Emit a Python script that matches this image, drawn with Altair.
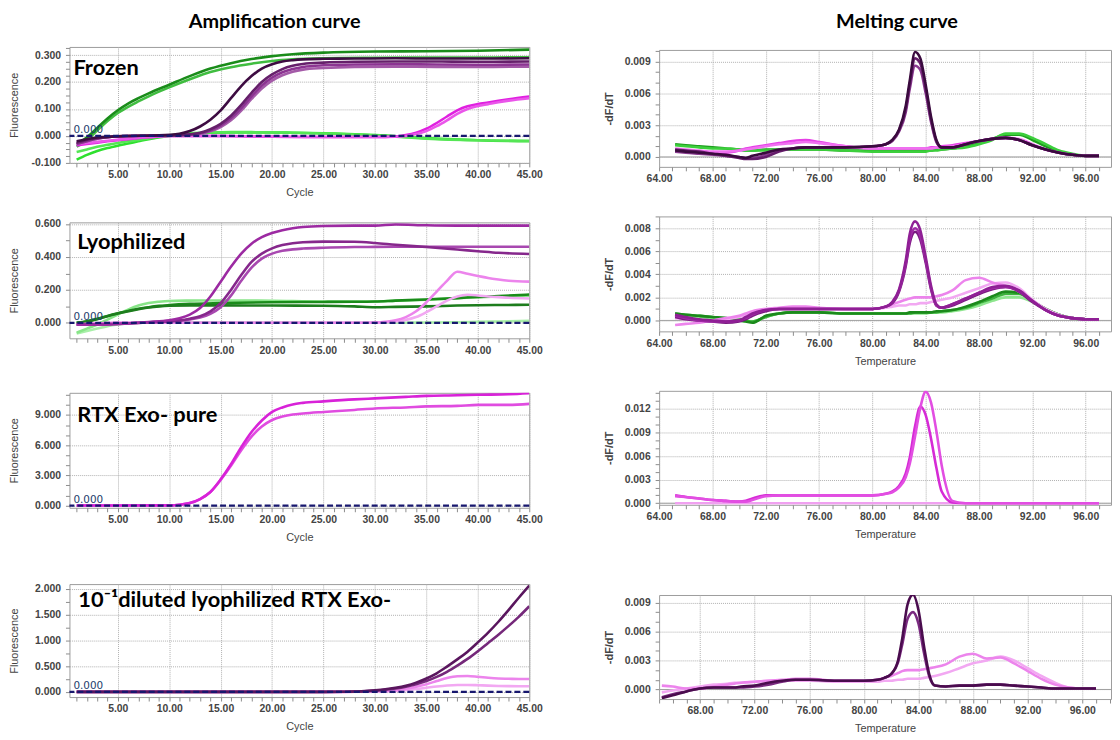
import json
import altair as alt
import pandas as pd

# ------------------------------------------------------------------ data
THRESHOLD = [0.0]

# Frozen - amplification
FZ_CYC_GREEN = [1, 2, 3, 4, 5, 6, 7, 8, 10, 12, 14, 16, 18, 20, 22, 25, 30, 35, 40, 45]
FZ_GREEN_DARK = [-0.03, -0.005, 0.03, 0.065, 0.095, 0.12, 0.14, 0.158, 0.19, 0.222, 0.25, 0.27, 0.285, 0.296, 0.303, 0.309, 0.313, 0.314, 0.316, 0.32]
FZ_GREEN_MED = [-0.04, -0.015, 0.02, 0.055, 0.085, 0.108, 0.128, 0.147, 0.18, 0.21, 0.237, 0.255, 0.268, 0.278, 0.284, 0.288, 0.29, 0.291, 0.291, 0.292]
FZ_GREEN_LOW_1 = [-0.088, -0.07, -0.056, -0.045, -0.036, -0.028, -0.02, -0.012, 0.0, 0.008, 0.012, 0.013, 0.013, 0.013, 0.012, 0.01, 0.003, -0.008, -0.016, -0.02]
FZ_GREEN_LOW_2 = [-0.06, -0.05, -0.04, -0.033, -0.026, -0.02, -0.015, -0.009, 0.002, 0.01, 0.013, 0.014, 0.014, 0.013, 0.012, 0.009, 0.002, -0.01, -0.016, -0.018]
FZ_CYC_SIG = [1, 3, 6, 9, 11, 12, 13, 14, 15, 16, 17, 18, 19, 20, 21, 22, 23, 25, 28, 32, 36, 40, 45]
FZ_PURPLE_1 = [-0.02, -0.006, 0.0, 0.002, 0.008, 0.018, 0.035, 0.06, 0.095, 0.14, 0.185, 0.222, 0.25, 0.266, 0.276, 0.281, 0.284, 0.286, 0.287, 0.288, 0.287, 0.287, 0.288]
FZ_PURPLE_2 = [-0.025, -0.008, 0.0, 0.001, 0.003, 0.006, 0.012, 0.025, 0.045, 0.075, 0.115, 0.16, 0.2, 0.228, 0.248, 0.26, 0.267, 0.272, 0.275, 0.276, 0.276, 0.275, 0.276]
FZ_PURPLE_3 = [-0.03, -0.01, 0.0, 0.001, 0.002, 0.005, 0.01, 0.02, 0.038, 0.066, 0.103, 0.147, 0.187, 0.216, 0.236, 0.248, 0.256, 0.262, 0.265, 0.266, 0.265, 0.264, 0.265]
FZ_PURPLE_4 = [-0.03, -0.01, 0.0, 0.001, 0.002, 0.004, 0.008, 0.017, 0.033, 0.058, 0.094, 0.137, 0.176, 0.205, 0.225, 0.238, 0.246, 0.252, 0.256, 0.257, 0.256, 0.256, 0.257]
FZ_CYC_LATE = [1, 2, 3, 4, 6, 8, 10, 15, 20, 25, 30, 32, 33, 34, 35, 36, 37, 38, 39, 40, 41, 42, 43, 45]
FZ_MAGENTA_1 = [-0.035, -0.03, -0.025, -0.02, -0.012, -0.005, 0.0, 0.0, -0.003, -0.004, -0.004, -0.002, 0.003, 0.012, 0.027, 0.048, 0.072, 0.095, 0.11, 0.118, 0.124, 0.13, 0.136, 0.146]
FZ_MAGENTA_2 = [-0.03, -0.026, -0.022, -0.018, -0.01, -0.004, 0.0, 0.0, -0.003, -0.004, -0.004, -0.003, 0.0, 0.007, 0.018, 0.036, 0.058, 0.082, 0.1, 0.111, 0.118, 0.125, 0.131, 0.14]

# Lyophilized - amplification
LY_CYC_SIG = [1, 4, 8, 10, 11, 12, 13, 14, 15, 16, 17, 18, 19, 20, 21, 22, 23, 25, 28, 30, 32, 35, 38, 40, 42, 45]
LY_PURPLE_TOP = [-0.01, -0.01, 0.005, 0.015, 0.028, 0.05, 0.09, 0.16, 0.25, 0.34, 0.42, 0.48, 0.52, 0.545, 0.562, 0.574, 0.582, 0.588, 0.59, 0.59, 0.597, 0.592, 0.59, 0.59, 0.59, 0.59]
LY_PURPLE_MID = [-0.01, -0.008, 0.003, 0.01, 0.015, 0.025, 0.04, 0.07, 0.12, 0.2, 0.29, 0.37, 0.42, 0.452, 0.472, 0.483, 0.489, 0.493, 0.492, 0.485, 0.474, 0.46, 0.445, 0.435, 0.425, 0.418]
LY_PURPLE_LOW = [-0.01, -0.008, 0.003, 0.008, 0.012, 0.02, 0.032, 0.055, 0.095, 0.165, 0.255, 0.335, 0.39, 0.42, 0.437, 0.446, 0.451, 0.456, 0.46, 0.461, 0.462, 0.462, 0.462, 0.462, 0.462, 0.462]
LY_CYC_LATE = [1, 5, 10, 20, 28, 30, 31, 32, 33, 34, 35, 36, 37, 38, 39, 40, 41, 42, 43, 45]
LY_PINK_1 = [-0.01, 0.0, 0.0, 0.0, 0.0, 0.002, 0.006, 0.015, 0.035, 0.07, 0.125, 0.19, 0.255, 0.31, 0.298, 0.285, 0.272, 0.263, 0.256, 0.25]
LY_PINK_2 = [-0.01, 0.0, 0.0, 0.0, 0.0, 0.0, 0.003, 0.008, 0.018, 0.035, 0.065, 0.1, 0.135, 0.16, 0.17, 0.166, 0.16, 0.156, 0.152, 0.148]
LY_CYC_GREEN = [1, 2, 3, 4, 5, 6, 7, 8, 9, 10, 12, 15, 20, 25, 28, 30, 32, 35, 38, 40, 42, 45]
LY_GREEN_LIGHT = [-0.06, -0.035, -0.01, 0.02, 0.05, 0.08, 0.105, 0.12, 0.128, 0.133, 0.135, 0.136, 0.134, 0.13, 0.13, 0.13, 0.135, 0.14, 0.15, 0.155, 0.16, 0.165]
LY_GREEN_DARK_1 = [0.0, 0.01, 0.025, 0.042, 0.058, 0.072, 0.085, 0.095, 0.103, 0.108, 0.115, 0.12, 0.125, 0.127, 0.128, 0.13, 0.135, 0.142, 0.15, 0.157, 0.162, 0.172]
LY_GREEN_DARK_2 = [0.0, 0.008, 0.022, 0.04, 0.056, 0.07, 0.083, 0.093, 0.1, 0.104, 0.106, 0.106, 0.105, 0.104, 0.1, 0.095, 0.097, 0.1, 0.105, 0.107, 0.108, 0.11]
LY_GREEN_FLAT = [-0.065, -0.05, -0.035, -0.02, -0.01, -0.003, 0.0, 0.002, 0.003, 0.004, 0.004, 0.003, 0.002, 0.001, 0.0, 0.0, 0.0, 0.002, 0.004, 0.006, 0.008, 0.012]

# RTX Exo- pure - amplification
RP_CYC = [1, 5, 10, 11, 12, 13, 14, 15, 16, 17, 18, 19, 20, 21, 22, 23, 25, 28, 30, 33, 35, 38, 40, 43, 45]
RP_MAGENTA_1 = [0.0, 0.0, 0.02, 0.08, 0.25, 0.65, 1.35, 2.6, 4.1, 5.8, 7.3, 8.45, 9.3, 9.75, 10.05, 10.2, 10.35, 10.55, 10.65, 10.8, 10.9, 10.95, 11.0, 11.05, 11.15]
RP_MAGENTA_2 = [0.0, 0.0, 0.02, 0.08, 0.25, 0.65, 1.35, 2.55, 3.95, 5.5, 6.85, 7.85, 8.5, 8.85, 9.05, 9.15, 9.3, 9.5, 9.65, 9.75, 9.85, 9.9, 10.0, 10.0, 10.1]

# 10^-1 diluted lyophilized RTX Exo- - amplification
DL_CYC = [1, 5, 10, 15, 20, 25, 27, 28, 29, 30, 31, 32, 33, 34, 35, 36, 37, 38, 39, 40, 41, 42, 43, 44, 45]
DL_PURPLE_1 = [0, 0, 0, 0, 0, 0, 0.003, 0.008, 0.015, 0.03, 0.05, 0.08, 0.12, 0.18, 0.26, 0.36, 0.49, 0.63, 0.78, 0.96, 1.15, 1.36, 1.59, 1.83, 2.06]
DL_PURPLE_2 = [0, 0, 0, 0, 0, 0, 0.003, 0.007, 0.013, 0.025, 0.042, 0.066, 0.1, 0.148, 0.21, 0.29, 0.39, 0.51, 0.64, 0.79, 0.95, 1.11, 1.28, 1.46, 1.66]
DL_PINK_1 = [0, 0, 0, 0, 0, 0, 0, 0.003, 0.006, 0.012, 0.02, 0.035, 0.06, 0.1, 0.15, 0.21, 0.27, 0.305, 0.31, 0.295, 0.275, 0.26, 0.255, 0.25, 0.25]
DL_PINK_2 = [0, 0, 0, 0, 0, 0, 0, 0.002, 0.004, 0.008, 0.013, 0.02, 0.035, 0.055, 0.08, 0.105, 0.125, 0.135, 0.135, 0.13, 0.122, 0.116, 0.112, 0.11, 0.11]

# Melting curves (temperature grid shared by all melt series)
MELT_T = [65.2, 66, 67, 68, 69,
          70, 70.5, 71, 72, 73,
          74, 75, 76, 78, 80,
          81, 81.5, 82, 82.5, 82.8,
          83.2, 83.6, 84, 84.4, 84.8,
          85.2, 86, 87, 88, 89,
          90, 91, 92, 93, 94,
          95, 96, 97]

FM_PURPLE_1 = [0.0006, 0.0005, 0.0004, 0.0003, 0.0002,
               0.0000, -0.0001, 0.0001, 0.0004, 0.0007,
               0.0008, 0.0009, 0.0009, 0.0009, 0.0010,
               0.0012, 0.0016, 0.0026, 0.0048, 0.0072,
               0.0099, 0.0093, 0.0068, 0.0038, 0.0016,
               0.0009, 0.0009, 0.0012, 0.0015, 0.0017,
               0.0018, 0.0016, 0.0011, 0.0007, 0.0004,
               0.0002, 0.0001, 0.0001]
FM_PURPLE_2 = [0.0007, 0.0006, 0.0005, 0.0003, 0.0001,
               -0.0001, -0.0002, -0.0002, 0.0000, 0.0005,
               0.0008, 0.0009, 0.0009, 0.0009, 0.0010,
               0.0012, 0.0016, 0.0025, 0.0045, 0.0068,
               0.0093, 0.0088, 0.0064, 0.0035, 0.0015,
               0.0009, 0.0009, 0.0012, 0.0015, 0.0017,
               0.0018, 0.0016, 0.0011, 0.0007, 0.0004,
               0.0002, 0.0001, 0.0001]
FM_PURPLE_3 = [0.0005, 0.0004, 0.0003, 0.0002, 0.0001,
               0.0000, -0.0001, -0.0001, 0.0002, 0.0006,
               0.0008, 0.0009, 0.0009, 0.0009, 0.0010,
               0.0012, 0.0015, 0.0024, 0.0042, 0.0064,
               0.0086, 0.0082, 0.0060, 0.0033, 0.0014,
               0.0009, 0.0009, 0.0012, 0.0015, 0.0017,
               0.0018, 0.0016, 0.0011, 0.0007, 0.0004,
               0.0002, 0.0001, 0.0001]
FM_MAGENTA_1 = [0.0007, 0.0006, 0.0005, 0.0004, 0.0004,
                0.0006, 0.0008, 0.0009, 0.0011, 0.0013,
                0.0015, 0.0016, 0.0014, 0.0010, 0.0008,
                0.0008, 0.0008, 0.0008, 0.0008, 0.0008,
                0.0008, 0.0008, 0.0008, 0.0009, 0.0009,
                0.0010, 0.0011, 0.0013, 0.0015, 0.0017,
                0.0018, 0.0016, 0.0011, 0.0007, 0.0004,
                0.0002, 0.0001, 0.0001]
FM_MAGENTA_2 = [0.0008, 0.0007, 0.0006, 0.0005, 0.0005,
                0.0006, 0.0007, 0.0008, 0.0010, 0.0012,
                0.0013, 0.0014, 0.0013, 0.0010, 0.0008,
                0.0008, 0.0008, 0.0008, 0.0008, 0.0008,
                0.0008, 0.0008, 0.0008, 0.0008, 0.0009,
                0.0009, 0.0010, 0.0012, 0.0015, 0.0017,
                0.0018, 0.0017, 0.0012, 0.0007, 0.0004,
                0.0002, 0.0001, 0.0001]
FM_GREEN_1 = [0.0012, 0.0011, 0.0010, 0.0009, 0.0008,
              0.0007, 0.0006, 0.0006, 0.0007, 0.0007,
              0.0007, 0.0007, 0.0007, 0.0006, 0.0006,
              0.0006, 0.0006, 0.0006, 0.0006, 0.0006,
              0.0006, 0.0006, 0.0006, 0.0006, 0.0007,
              0.0007, 0.0008, 0.0010, 0.0013, 0.0017,
              0.0021, 0.0021, 0.0016, 0.0010, 0.0005,
              0.0002, 0.0001, 0.0001]
FM_GREEN_2 = [0.0011, 0.0010, 0.0009, 0.0008, 0.0008,
              0.0007, 0.0006, 0.0006, 0.0006, 0.0007,
              0.0007, 0.0007, 0.0007, 0.0006, 0.0005,
              0.0005, 0.0005, 0.0005, 0.0005, 0.0005,
              0.0005, 0.0005, 0.0005, 0.0006, 0.0006,
              0.0007, 0.0008, 0.0009, 0.0012, 0.0016,
              0.0022, 0.0022, 0.0018, 0.0012, 0.0006,
              0.0003, 0.0001, 0.0001]

LM_PURPLE_1 = [0.0005, 0.0003, 0.0001, 0.0000, -0.0001,
               0.0000, 0.0003, 0.0006, 0.0009, 0.0010,
               0.0010, 0.0010, 0.0010, 0.0010, 0.0010,
               0.0012, 0.0016, 0.0027, 0.0052, 0.0075,
               0.0086, 0.0078, 0.0055, 0.0030, 0.0014,
               0.0011, 0.0014, 0.0019, 0.0024, 0.0029,
               0.0030, 0.0026, 0.0017, 0.0009, 0.0004,
               0.0002, 0.0001, 0.0001]
LM_PURPLE_2 = [0.0004, 0.0002, 0.0000, -0.0001, -0.0001,
               0.0000, 0.0002, 0.0005, 0.0009, 0.0010,
               0.0010, 0.0010, 0.0010, 0.0010, 0.0010,
               0.0012, 0.0016, 0.0026, 0.0049, 0.0070,
               0.0080, 0.0073, 0.0052, 0.0028, 0.0013,
               0.0011, 0.0014, 0.0019, 0.0024, 0.0028,
               0.0029, 0.0026, 0.0017, 0.0009, 0.0004,
               0.0002, 0.0001, 0.0001]
LM_PURPLE_3 = [0.0003, 0.0001, 0.0000, -0.0001, -0.0002,
               -0.0001, 0.0001, 0.0004, 0.0008, 0.0010,
               0.0010, 0.0010, 0.0010, 0.0010, 0.0010,
               0.0012, 0.0015, 0.0025, 0.0047, 0.0067,
               0.0077, 0.0070, 0.0050, 0.0027, 0.0013,
               0.0011, 0.0013, 0.0018, 0.0023, 0.0027,
               0.0029, 0.0025, 0.0016, 0.0009, 0.0004,
               0.0002, 0.0001, 0.0001]
LM_PINK_1 = [-0.0004, -0.0003, -0.0002, 0.0000, 0.0002,
             0.0004, 0.0006, 0.0008, 0.0010, 0.0011,
             0.0012, 0.0012, 0.0011, 0.0010, 0.0010,
             0.0012, 0.0014, 0.0016, 0.0018, 0.0019,
             0.0020, 0.0020, 0.0020, 0.0020, 0.0021,
             0.0022, 0.0026, 0.0035, 0.0037, 0.0033,
             0.0030, 0.0025, 0.0017, 0.0009, 0.0004,
             0.0002, 0.0001, 0.0001]
LM_PINK_2 = [0.0002, 0.0001, 0.0000, 0.0000, 0.0001,
             0.0003, 0.0005, 0.0007, 0.0009, 0.0010,
             0.0011, 0.0011, 0.0010, 0.0010, 0.0010,
             0.0011, 0.0012, 0.0013, 0.0013, 0.0014,
             0.0014, 0.0015, 0.0015, 0.0016, 0.0017,
             0.0018, 0.0020, 0.0024, 0.0028, 0.0032,
             0.0033, 0.0028, 0.0018, 0.0010, 0.0005,
             0.0002, 0.0001, 0.0001]
LM_GREEN_1 = [0.0006, 0.0005, 0.0004, 0.0003, 0.0002,
              0.0000, -0.0001, -0.0002, 0.0004, 0.0006,
              0.0007, 0.0007, 0.0007, 0.0006, 0.0006,
              0.0006, 0.0006, 0.0006, 0.0006, 0.0007,
              0.0007, 0.0007, 0.0007, 0.0007, 0.0008,
              0.0008, 0.0009, 0.0012, 0.0016, 0.0021,
              0.0025, 0.0024, 0.0017, 0.0010, 0.0005,
              0.0002, 0.0001, 0.0001]
LM_GREEN_2 = [0.0006, 0.0005, 0.0004, 0.0003, 0.0002,
              0.0001, 0.0000, -0.0001, 0.0003, 0.0006,
              0.0007, 0.0007, 0.0007, 0.0006, 0.0006,
              0.0006, 0.0006, 0.0006, 0.0006, 0.0006,
              0.0007, 0.0007, 0.0007, 0.0007, 0.0007,
              0.0008, 0.0009, 0.0011, 0.0015, 0.0019,
              0.0023, 0.0023, 0.0017, 0.0010, 0.0005,
              0.0002, 0.0001, 0.0001]
LM_GREEN_3 = [0.0005, 0.0004, 0.0003, 0.0002, 0.0001,
              0.0000, -0.0001, -0.0001, 0.0003, 0.0006,
              0.0007, 0.0007, 0.0007, 0.0006, 0.0006,
              0.0006, 0.0006, 0.0006, 0.0006, 0.0006,
              0.0006, 0.0006, 0.0006, 0.0007, 0.0007,
              0.0007, 0.0008, 0.0010, 0.0013, 0.0017,
              0.0020, 0.0020, 0.0016, 0.0010, 0.0005,
              0.0002, 0.0001, 0.0001]

RM_MAGENTA_1 = [0.0010, 0.0008, 0.0006, 0.0004, 0.0003,
                0.0002, 0.0003, 0.0006, 0.0010, 0.0010,
                0.0010, 0.0010, 0.0010, 0.0010, 0.0010,
                0.0012, 0.0015, 0.0022, 0.0038, 0.0058,
                0.0098, 0.0123, 0.0112, 0.0082, 0.0045,
                0.0015, 0.0001, 0.0000, 0.0000, 0.0000,
                0.0000, 0.0000, 0.0000, 0.0000, 0.0000,
                0.0000, 0.0000, 0.0000]
RM_MAGENTA_2 = [0.0009, 0.0008, 0.0006, 0.0004, 0.0003,
                0.0002, 0.0002, 0.0004, 0.0009, 0.0010,
                0.0010, 0.0010, 0.0010, 0.0010, 0.0010,
                0.0012, 0.0014, 0.0020, 0.0033, 0.0050,
                0.0085, 0.0122, 0.0142, 0.0128, 0.0092,
                0.0048, 0.0003, 0.0000, 0.0000, 0.0000,
                0.0000, 0.0000, 0.0000, 0.0000, 0.0000,
                0.0000, 0.0000, 0.0000]
RM_BASE_T = [65.2, 97.0]
RM_BASE = [0.0, 0.0]

DM_PURPLE_1 = [-0.0009, -0.0006, -0.0002, 0.0001, 0.0002,
               0.0002, 0.0002, 0.0003, 0.0004, 0.0007,
               0.0009, 0.0010, 0.0010, 0.0009, 0.0009,
               0.0010, 0.0012, 0.0016, 0.0030, 0.0052,
               0.0088, 0.0098, 0.0082, 0.0045, 0.0015,
               0.0004, 0.0003, 0.0004, 0.0004, 0.0005,
               0.0005, 0.0004, 0.0003, 0.0002, 0.0001,
               0.0001, 0.0001, 0.0001]
DM_PURPLE_2 = [-0.0008, -0.0005, -0.0002, 0.0001, 0.0002,
               0.0002, 0.0002, 0.0002, 0.0003, 0.0005,
               0.0008, 0.0010, 0.0010, 0.0009, 0.0009,
               0.0010, 0.0012, 0.0016, 0.0028, 0.0046,
               0.0073, 0.0080, 0.0068, 0.0038, 0.0013,
               0.0004, 0.0003, 0.0004, 0.0004, 0.0005,
               0.0005, 0.0004, 0.0003, 0.0002, 0.0001,
               0.0001, 0.0001, 0.0001]
DM_PINK_1 = [0.0004, 0.0003, 0.0001, 0.0001, 0.0003,
             0.0005, 0.0006, 0.0007, 0.0008, 0.0009,
             0.0010, 0.0011, 0.0011, 0.0009, 0.0009,
             0.0010, 0.0012, 0.0014, 0.0017, 0.0019,
             0.0020, 0.0020, 0.0020, 0.0021, 0.0022,
             0.0023, 0.0026, 0.0034, 0.0037, 0.0032,
             0.0033, 0.0027, 0.0019, 0.0011, 0.0005,
             0.0002, 0.0001, 0.0001]
DM_PINK_2 = [-0.0003, -0.0001, 0.0001, 0.0003, 0.0005,
             0.0006, 0.0007, 0.0007, 0.0008, 0.0009,
             0.0009, 0.0009, 0.0009, 0.0008, 0.0008,
             0.0008, 0.0009, 0.0009, 0.0010, 0.0010,
             0.0011, 0.0011, 0.0011, 0.0012, 0.0013,
             0.0014, 0.0017, 0.0022, 0.0027, 0.0030,
             0.0034, 0.0030, 0.0022, 0.0014, 0.0007,
             0.0002, 0.0001, 0.0001]

# axis tick labels
AMP_X_MAJOR = [5, 10, 15, 20, 25, 30, 35, 40, 45]
MELT_X_MAJOR = [64, 68, 72, 76, 80, 84, 88, 92, 96]
FZ_Y_MAJOR = [-0.1, 0.0, 0.1, 0.2, 0.3]
LY_Y_MAJOR = [0.0, 0.2, 0.4, 0.6]
RP_Y_MAJOR = [0.0, 3.0, 6.0, 9.0]
DL_Y_MAJOR = [0.0, 0.5, 1.0, 1.5, 2.0]
FM_Y_MAJOR = [0.0, 0.003, 0.006, 0.009]
LM_Y_MAJOR = [0.0, 0.002, 0.004, 0.006, 0.008]
RM_Y_MAJOR = [0.0, 0.003, 0.006, 0.009, 0.012]
DM_Y_MAJOR = [0.0, 0.003, 0.006, 0.009]

# ------------------------------------------------------------------ style
LABEL_FONT = "Liberation Sans"
HEAD_FONT = "Lato"
AXIS_GREY = "#444444"
GRID_GREY = "#b0b0b0"
TICK_GREY = "#8c8c8c"
BORDER_GREY = "#9c9c9c"
NAVY = "#17176e"


def build_df(series, prefix):
    rows = []
    for name, xs, ys in series:
        for xv, yv in zip(xs, ys):
            rows.append({"x": xv, "y": yv, "series": f"{prefix}_{name}"})
    return pd.DataFrame(rows)


def tick_values(lo, hi, step):
    n = int(round((hi - lo) / step))
    return [round(lo + i * step, 6) for i in range(n + 1)]


def major_test(values):
    return f"indexof({json.dumps(values)}, datum.value) >= 0"


def make_axis(ticks, major, fmt, title, orient_x, size, title_pos, bold_title=False):
    test = major_test(major)
    kw = dict(
        values=ticks,
        labelExpr=f"{test} ? replace(format(datum.value, '{fmt}'), '\u2212', '-') : ''",
        labelFlush=False,
        labelOverlap=False,
        labelFont=LABEL_FONT,
        labelFontSize=10.5,
        labelFontWeight="bold",
        labelColor=AXIS_GREY,
        tickSize=4,
        tickColor=TICK_GREY,
        domain=False,
        grid=True,
        gridColor=GRID_GREY,
        gridDash=[1, 1],
        gridOpacity={"condition": {"test": test, "value": 1}, "value": 0},
    )
    kw["labelPadding"] = 3 if orient_x else 5
    if title:
        kw.update(
            title=title,
            titleFont=LABEL_FONT,
            titleFontSize=11,
            titleFontWeight="bold" if bold_title else "normal",
            titleColor=AXIS_GREY,
            titleBaseline="middle",
            titleAlign="center",
        )
        if orient_x:
            kw.update(titleX=size / 2, titleY=title_pos)
        else:
            kw.update(titleX=title_pos, titleY=size / 2, titleAngle=270)
    else:
        kw["title"] = None
    return alt.Axis(**kw)


def panel(pid, series, colors, xdom, ydom, xticks, xmajor, yticks, ymajor, width, height,
          xtitle, ytitle, ytitle_x, melt, label=None, label_dx=6, label_dy=28,
          title=None):
    df = build_df(series, pid)
    names = [f"{pid}_{s[0]}" for s in series]
    xs = alt.Scale(domain=xdom, nice=False, zero=False)
    ys = alt.Scale(domain=ydom, nice=False, zero=False)
    x_ax = make_axis(xticks, xmajor, ".2f", xtitle, True, width, 30)
    y_ax = make_axis(yticks, ymajor, ".3f", ytitle, False, height, ytitle_x, bold_title=melt)
    X = lambda: alt.X("x:Q", scale=xs, axis=x_ax)
    Y = lambda: alt.Y("y:Q", scale=ys, axis=y_ax)
    layers = []
    if melt:
        zero_df = pd.DataFrame({"y": THRESHOLD})
        layers.append(
            alt.Chart(zero_df).mark_rule(color="#a0a0a0", strokeWidth=1).encode(y=Y()))
    lines = alt.Chart(df).mark_line(strokeWidth=2.6, clip=True, interpolate="monotone").encode(
        x=X(), y=Y(),
        color=alt.Color("series:N", scale=alt.Scale(domain=names, range=colors), legend=None),
    )
    layers.append(lines)
    if not melt:
        thr_df = pd.DataFrame({"y": THRESHOLD})
        layers.append(
            alt.Chart(thr_df).mark_rule(color=NAVY, strokeWidth=2.2, strokeDash=[6, 3]).encode(y=Y()))
        thr_txt = pd.DataFrame({"x": [xdom[0]], "y": THRESHOLD, "t": ["0.000"]})
        layers.append(
            alt.Chart(thr_txt).mark_text(align="left", baseline="alphabetic", dx=4, dy=-3,
                                         font="DejaVu Sans", fontSize=10.5, color="#1d3d6d").encode(
                x=X(), y=Y(), text="t:N"))
    if label:
        lab_df = pd.DataFrame({"x": [xdom[0]], "y": [ydom[1]], "t": [label]})
        layers.append(
            alt.Chart(lab_df).mark_text(align="left", baseline="alphabetic", dx=label_dx, dy=label_dy,
                                        font=HEAD_FONT, fontSize=22, fontWeight="bold",
                                        color="#000000").encode(
                x=X(), y=Y(), text="t:N"))
    ch = alt.layer(*layers).properties(
        width=width, height=height,
        view=alt.ViewBackground(stroke=BORDER_GREY, strokeWidth=1))
    if title is not None:
        ch = ch.properties(title=title)
    return ch


def spacer(w, h):
    return alt.Chart(pd.DataFrame({"v": [0]})).mark_point(opacity=0).encode(
        x=alt.X("v:Q", axis=None), y=alt.Y("v:Q", axis=None)).properties(width=w, height=h)


# colours
C_GREEN_DARK = "#1a8c1a"
C_GREEN_MED = "#40bd40"
C_GREEN_BRIGHT = "#2ee02e"
C_GREEN_LIGHT = "#88e588"
C_GREEN_PALE = "#a8efa8"
C_PURPLE_BLACK = "#3e0c42"
C_PURPLE_DARK = "#66206b"
C_PURPLE = "#8c3492"
C_PURPLE_SOFT = "#a45aa8"
C_PURPLE_VIVID = "#9c2aa2"
C_MAGENTA = "#e020e0"
C_MAGENTA_SOFT = "#ea55ea"
C_PINK = "#ec84ec"
C_PINK_PALE = "#f2a8f2"

LW = 464
RW = 456
AMP_XDOM = [0.3, 45.0]
AMP_XT = tick_values(1, 45, 1)
MELT_XDOM = [64.0, 97.9]
MELT_XT = tick_values(64, 97, 1)
MELT_XDOM_4 = [65.0, 98.1]
MELT_XT_4 = tick_values(65, 98, 1)
LYT = -55
RYT = -50

amp_title = alt.TitleParams("Amplification curve", font=HEAD_FONT, fontSize=20, fontWeight="bold",
                            color="#000000", anchor="middle", frame="group", dx=-25, offset=-5,
                            baseline="alphabetic")
melt_title = alt.TitleParams("Melting curve", font=HEAD_FONT, fontSize=20, fontWeight="bold",
                             color="#000000", anchor="middle", frame="group", dx=12, offset=-2,
                             baseline="alphabetic")

p1 = panel(
    "p1",
    [("g_med", FZ_CYC_GREEN, FZ_GREEN_MED), ("g_dark", FZ_CYC_GREEN, FZ_GREEN_DARK),
     ("g_low1", FZ_CYC_GREEN, FZ_GREEN_LOW_1), ("g_low2", FZ_CYC_GREEN, FZ_GREEN_LOW_2),
     ("m1", FZ_CYC_LATE, FZ_MAGENTA_1), ("m2", FZ_CYC_LATE, FZ_MAGENTA_2),
     ("p4", FZ_CYC_SIG, FZ_PURPLE_4), ("p3", FZ_CYC_SIG, FZ_PURPLE_3),
     ("p2", FZ_CYC_SIG, FZ_PURPLE_2), ("p1", FZ_CYC_SIG, FZ_PURPLE_1)],
    [C_GREEN_MED, C_GREEN_DARK, C_GREEN_BRIGHT, "#55e655", C_MAGENTA, C_MAGENTA_SOFT,
     C_PURPLE_SOFT, C_PURPLE, C_PURPLE_DARK, C_PURPLE_BLACK],
    AMP_XDOM, [-0.1, 0.33], AMP_XT, AMP_X_MAJOR, tick_values(-0.1, 0.325, 0.025), FZ_Y_MAJOR,
    LW, 117, "Cycle", "Fluorescence", LYT, False, label="Frozen", label_dx=4, label_dy=28,
    title=amp_title)

p2 = panel(
    "p2",
    [("g_flat", LY_CYC_GREEN, LY_GREEN_FLAT), ("g_light", LY_CYC_GREEN, LY_GREEN_LIGHT),
     ("g_d1", LY_CYC_GREEN, LY_GREEN_DARK_1), ("g_d2", LY_CYC_GREEN, LY_GREEN_DARK_2),
     ("k2", LY_CYC_LATE, LY_PINK_2), ("k1", LY_CYC_LATE, LY_PINK_1),
     ("low", LY_CYC_SIG, LY_PURPLE_LOW), ("mid", LY_CYC_SIG, LY_PURPLE_MID),
     ("top", LY_CYC_SIG, LY_PURPLE_TOP)],
    [C_GREEN_PALE, C_GREEN_LIGHT, C_GREEN_DARK, "#1d7d1d", C_PINK_PALE, C_PINK,
     "#a848b0", "#86288c", C_PURPLE_VIVID],
    AMP_XDOM, [-0.094, 0.61], AMP_XT, AMP_X_MAJOR, tick_values(0.0, 0.6, 0.1), LY_Y_MAJOR,
    LW, 117, None, "Fluorescence", LYT, False, label="Lyophilized", label_dx=8, label_dy=27)

p3 = panel(
    "p3",
    [("m2", RP_CYC, RP_MAGENTA_2), ("m1", RP_CYC, RP_MAGENTA_1)],
    ["#e04ce0", "#d822d8"],
    AMP_XDOM, [-0.22, 11.2], AMP_XT, AMP_X_MAJOR, tick_values(0.0, 11.0, 1.0), RP_Y_MAJOR,
    LW, 116, "Cycle", "Fluorescence", LYT, False, label="RTX Exo- pure", label_dx=8, label_dy=29)

p4 = panel(
    "p4",
    [("k2", DL_CYC, DL_PINK_2), ("k1", DL_CYC, DL_PINK_1),
     ("p2", DL_CYC, DL_PURPLE_2), ("p1", DL_CYC, DL_PURPLE_1)],
    [C_PINK_PALE, C_PINK, "#75287a", "#5a165e"],
    AMP_XDOM, [-0.1, 2.09], AMP_XT, AMP_X_MAJOR, tick_values(0.0, 2.0, 0.25), DL_Y_MAJOR,
    LW, 114, "Cycle", "Fluorescence", LYT, False, label="10\u207b\u00b9diluted lyophilized RTX Exo-",
    label_dx=9, label_dy=23)

r1 = panel(
    "r1",
    [("g1", MELT_T, FM_GREEN_1), ("g2", MELT_T, FM_GREEN_2),
     ("m1", MELT_T, FM_MAGENTA_1), ("m2", MELT_T, FM_MAGENTA_2),
     ("p3", MELT_T, FM_PURPLE_3), ("p2", MELT_T, FM_PURPLE_2), ("p1", MELT_T, FM_PURPLE_1)],
    ["#1e9e1e", "#3ccf3c", "#e640e6", "#f070f0", "#8a3a90", "#651d6a", "#3a0a3e"],
    MELT_XDOM, [-0.00094, 0.0101], MELT_XT, MELT_X_MAJOR, tick_values(0.0, 0.010, 0.001),
    FM_Y_MAJOR, RW, 118, None, "-dF/dT", RYT, True, title=melt_title)

r2 = panel(
    "r2",
    [("g3", MELT_T, LM_GREEN_3), ("g2", MELT_T, LM_GREEN_2), ("g1", MELT_T, LM_GREEN_1),
     ("k2", MELT_T, LM_PINK_2), ("k1", MELT_T, LM_PINK_1),
     ("p3", MELT_T, LM_PURPLE_3), ("p2", MELT_T, LM_PURPLE_2), ("p1", MELT_T, LM_PURPLE_1)],
    ["#8ee68e", "#3cb43c", "#1b8a1b", C_PINK_PALE, C_PINK, "#7a1a80", "#a02aa6", "#8f1f95"],
    MELT_XDOM, [-0.00095, 0.00903], MELT_XT, MELT_X_MAJOR, tick_values(0.0, 0.009, 0.001),
    LM_Y_MAJOR, RW, 116, "Temperature", "-dF/dT", RYT, True)

r3 = panel(
    "r3",
    [("base", RM_BASE_T, RM_BASE), ("m1", MELT_T, RM_MAGENTA_1), ("m2", MELT_T, RM_MAGENTA_2)],
    ["#f0a0f0", "#d62ad6", "#e24ee2"],
    MELT_XDOM, [-0.0002, 0.0143], MELT_XT, MELT_X_MAJOR, tick_values(0.0, 0.014, 0.001),
    RM_Y_MAJOR, RW, 115, "Temperature", "-dF/dT", RYT, True)

r4 = panel(
    "r4",
    [("k2", MELT_T, DM_PINK_2), ("k1", MELT_T, DM_PINK_1),
     ("p2", MELT_T, DM_PURPLE_2), ("p1", MELT_T, DM_PURPLE_1)],
    [C_PINK_PALE, C_PINK, "#7a2a80", "#4a0c4e"],
    MELT_XDOM_4, [-0.00099, 0.00977], MELT_XT_4, MELT_X_MAJOR, tick_values(0.0, 0.009, 0.001),
    DM_Y_MAJOR, RW, 105, "Temperature", "-dF/dT", RYT, True)

left_col = alt.vconcat(p1, spacer(LW, 60), p2, spacer(LW, 55), p3, spacer(LW, 77), p4,
                       spacing=0, bounds="flush").resolve_scale(color="independent")
right_col = alt.vconcat(spacer(RW, 3), r1, spacer(RW, 50), r2, spacer(RW, 60), r3,
                        spacer(RW, 91), r4, spacing=0,
                        bounds="flush").resolve_scale(color="independent")

chart = alt.hconcat(left_col, right_col, spacing=60).resolve_scale(
    color="independent"
).properties(
    padding={"left": 0, "top": 0, "right": 0, "bottom": 0}
).configure_view(stroke=None)

chart.save("out.html", embed_options={"renderer": "svg", "actions": False})
